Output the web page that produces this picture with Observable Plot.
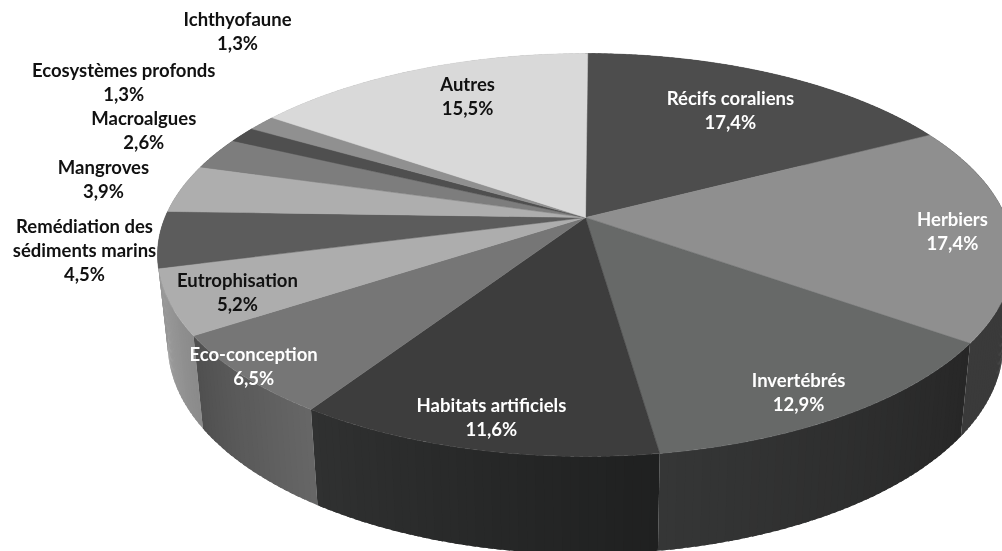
<!DOCTYPE html>
<html lang="fr">
<head>
<meta charset="utf-8">
<script src="https://cdn.jsdelivr.net/npm/d3@7"></script>
<script src="https://cdn.jsdelivr.net/npm/@observablehq/plot@0.6"></script>
<style>
html,body{margin:0;padding:0;background:#fff;overflow:hidden}
svg{display:block}
</style>
</head>
<body>
<div id="chart"></div>
<script>
const categories = ["Récifs coraliens","Herbiers","Invertébrés","Habitats artificiels","Eco-conception","Eutrophisation","Remédiation des\nsédiments marins","Mangroves","Macroalgues","Ecosystèmes profonds","Ichthyofaune","Autres"];
const shares = [17.4,17.4,12.9,11.6,6.5,5.2,4.5,3.9,2.6,1.3,1.3,15.5];
const shareLabels = ["17,4%","17,4%","12,9%","11,6%","6,5%","5,2%","4,5%","3,9%","2,6%","1,3%","1,3%","15,5%"];
const topColors = ["#4d4d4d","#8f8f8f","#676968","#3d3d3d","#767676","#adadad","#5c5c5c","#aeaeae","#7d7d7d","#4f4f4f","#909090","#d9d9d9"];
const wallFrom = ["#3a3a3a","#3c3c3c","#272727","#1f2020","#666666","#8a8a8a","#555555","#888888","#666666","#444444","#777777","#aaaaaa"];
const wallTo = ["#3a3a3a","#3a3a3a","#353636","#303131","#505050","#a0a0a0","#555555","#888888","#666666","#444444","#777777","#aaaaaa"];
const textColors = ["#fff","#fff","#fff","#fff","#fff","#111","#111","#111","#111","#111","#111","#111"];
const labelShiftX = [-43.7,-58,-48,18,11.4,68,-74.3,-78,-72,-118.5,-24.3,49];
const labelShiftY = [35.3,-0.6,-23,-33,-9.7,-10.8,10.2,-10,-24,-53.3,-92.7,25.6];

// perspective disc: centre, semi-axes, foreshortening
const cx = 585, cy = 217, A = 420.5, B = 194.5, k = 0.186;
const rim = (deg) => {
  const t = deg * Math.PI / 180, den = 1 + k * Math.cos(t);
  return [cx + A * Math.sin(t) / den, cy - B * Math.cos(t) / den];
};
const base = ([x, y]) => [cx + 0.976 * (x - cx), 305 + 1.04 * (y - cy)];

let running = 0;
const slices = shares.map((v, i) => {
  const a0 = running * 3.6; running += v;
  const a1 = running * 3.6;
  return {i, a0, a1, mid: (a0 + a1) / 2};
});

const topPts = [], wallPts = [];
for (const s of slices) {
  const steps = Math.max(6, Math.ceil((s.a1 - s.a0) * 1.5));
  const span = s.a1 - s.a0;
  topPts.push({id: s.i, p: [cx, cy], color: topColors[s.i]});
  for (let j = 0; j <= steps; j++) {
    topPts.push({id: s.i, p: rim(s.a0 + span * j / steps), color: topColors[s.i]});
  }
  topPts.push({id: s.i, p: [cx, cy], color: topColors[s.i]});
}
// walls go back to front so that the nearer slice hides the farther one
for (const s of [...slices].sort((a, b) => rim(a.mid)[1] - rim(b.mid)[1])) {
  const span = s.a1 - s.a0;
  const steps = Math.max(6, Math.ceil(span));
  const mix = d3.interpolateRgb(wallFrom[s.i], wallTo[s.i]);
  for (let j = 0; j < steps; j++) {
    const a = s.a0 + span * j / steps;
    const b = Math.min(s.a1, s.a0 + span * (j + 1.6) / steps); // strips overlap to avoid seams
    const color = mix((j + 0.5) / steps), id = `${s.i}-${j}`;
    for (const p of [rim(a), rim(b), base(rim(b)), base(rim(a))]) wallPts.push({id, p, color});
  }
}

const labels = slices.map(s => {
  const [x, y] = rim(s.mid);
  return {
    x: x + labelShiftX[s.i], y: y + labelShiftY[s.i],
    text: categories[s.i] + "\n" + shareLabels[s.i],
    color: textColors[s.i]
  };
});

const chart = Plot.plot({
  width: 1002, height: 551,
  margin: 0,
  x: {domain: [0, 1002], range: [0, 1002], axis: null},
  y: {domain: [0, 551], range: [0, 551], axis: null},
  style: {background: "#fff", filter: "blur(0.4px)"},
  marks: [
    Plot.line(wallPts, {x: d => d.p[0], y: d => d.p[1], z: "id", fill: "color", stroke: "none"}),
    Plot.line(topPts, {x: d => d.p[0], y: d => d.p[1], z: "id", fill: "color", stroke: "color", strokeWidth: 0.5}),
    Plot.text(labels, {x: "x", y: "y", text: "text", fill: "color", fontFamily: "Lato", fontWeight: 700, fontSize: 18.5, lineHeight: 1.3, textAnchor: "middle"})
  ]
});
document.getElementById("chart").append(chart);
</script>
</body>
</html>
